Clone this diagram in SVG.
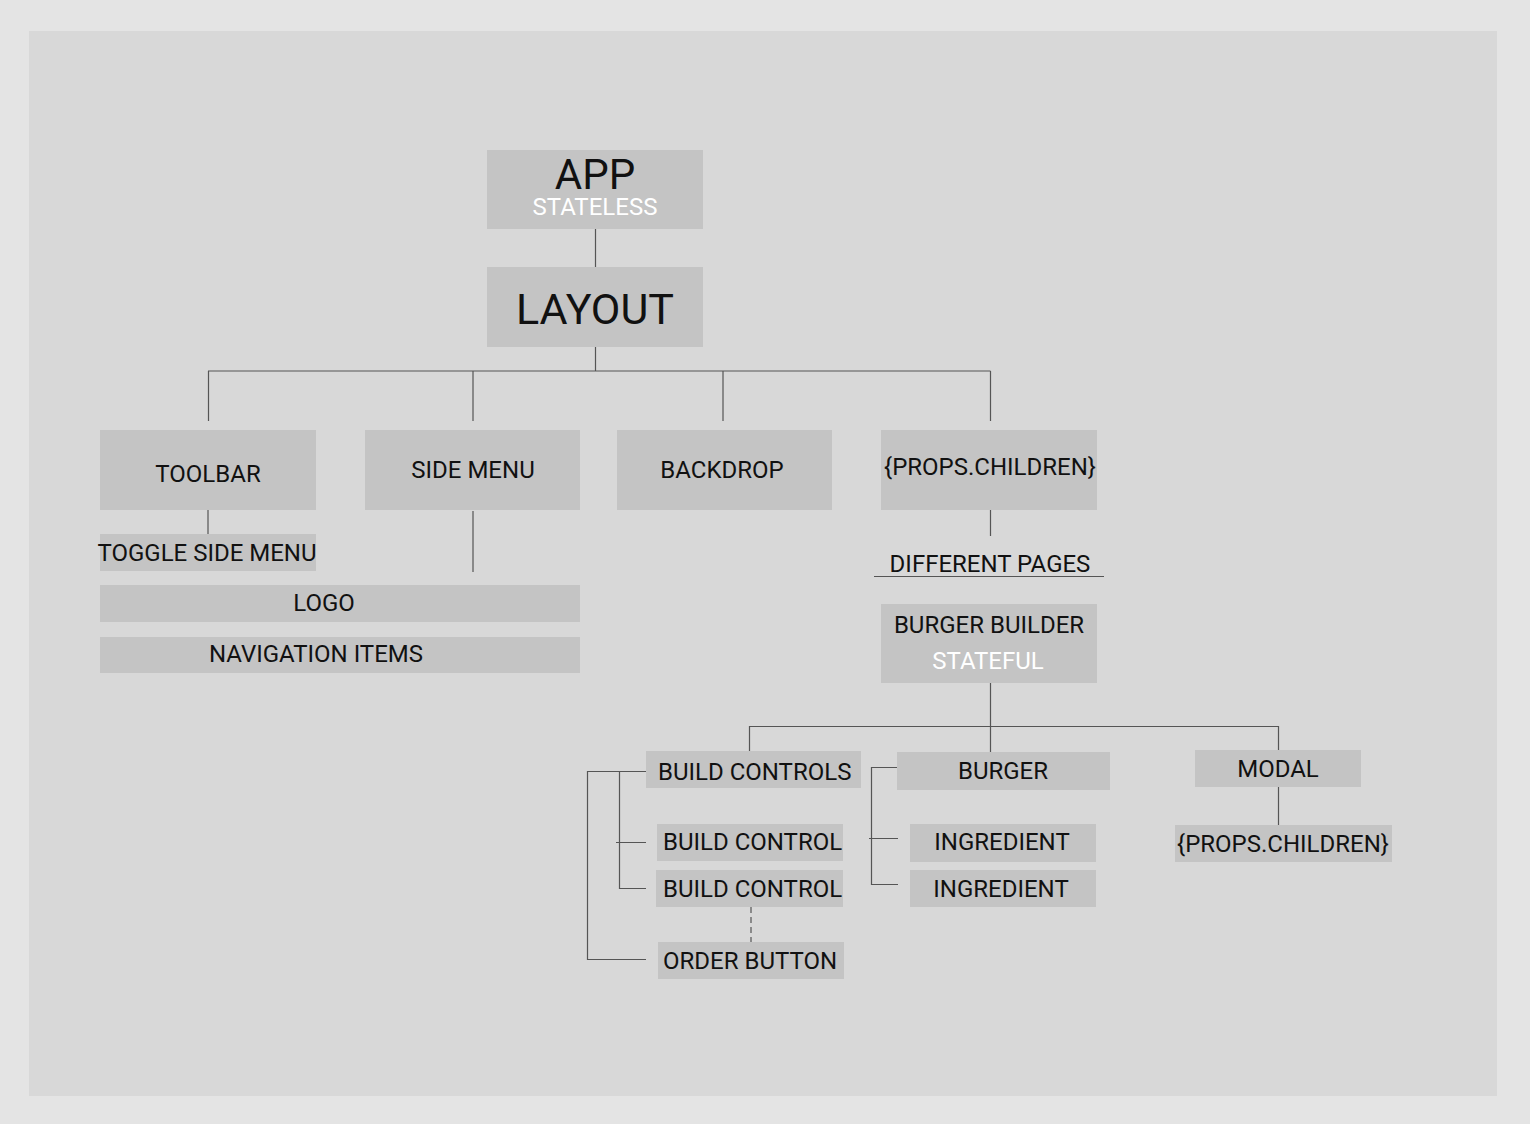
<svg xmlns="http://www.w3.org/2000/svg" width="1530" height="1124" viewBox="0 0 1530 1124">
<style>
.box{fill:#c4c4c4}
.t{font-family:Roboto,"Liberation Sans",sans-serif;font-size:24px;fill:#111}
.c{text-anchor:middle}
.w{fill:#ffffff}
.ln{stroke:#555;stroke-width:1.2;fill:none}
</style>
<rect x="0" y="0" width="1530" height="1124" fill="#e4e4e4"/>
<rect x="29" y="31" width="1468" height="1065" fill="#d8d8d8"/>
<g id="connectors">
<path class="ln" d="M595.5 229V267M595.5 347V371M208 371H990.5M208.5 371V421M473 371V421M723 371V421M990.5 371V421"/>
<path class="ln" d="M208 510V534M473 511V572"/>
<path class="ln" d="M990.5 509V536M874 576.5H1104"/>
<path class="ln" d="M990.5 683V726.5M749 726.5H1278.5M749.5 726V751M990.5 726V752M1278.5 726V750"/>
<path class="ln" d="M646 771.5H587.5V959.5H646M619.5 771V888.5H646M616 842.5H646"/>
<path class="ln" d="M751 907V942" stroke-dasharray="6,4"/>
<path class="ln" d="M897 767.5H871.5V884.5H898M869 838.5H898"/>
<path class="ln" d="M1278.5 787V825"/>
</g>
<g id="app"><rect class="box" x="487" y="150" width="216" height="79"/><text class="t c"><tspan x="595" y="189" style="font-size:42px">APP</tspan><tspan class="w" x="595" y="215" style="font-size:24px">STATELESS</tspan></text></g>
<g id="layout"><rect class="box" x="487" y="267" width="216" height="80"/><text class="t c" x="595" y="324" style="font-size:43px">LAYOUT</text></g>
<g id="toolbar"><rect class="box" x="100" y="430" width="216" height="80"/><text class="t c" x="208" y="482">TOOLBAR</text></g>
<g id="sidemenu"><rect class="box" x="365" y="430" width="215" height="80"/><text class="t c" x="473" y="478">SIDE MENU</text></g>
<g id="backdrop"><rect class="box" x="617" y="430" width="215" height="80"/><text class="t c" x="722" y="478">BACKDROP</text></g>
<g id="propschildren"><rect class="box" x="881" y="430" width="216" height="80"/><text class="t c" x="990" y="475">{PROPS.CHILDREN}</text></g>
<g id="togglesidemenu"><rect class="box" x="100" y="534" width="216" height="37"/><text class="t c" x="207" y="561">TOGGLE SIDE MENU</text></g>
<g id="logo"><rect class="box" x="100" y="585" width="480" height="37"/><text class="t c" x="324" y="611">LOGO</text></g>
<g id="navigationitems"><rect class="box" x="100" y="637" width="480" height="36"/><text class="t c" x="316" y="662">NAVIGATION ITEMS</text></g>
<g id="differentpages"><text class="t c" x="990" y="572">DIFFERENT PAGES</text></g>
<g id="burgerbuilder"><rect class="box" x="881" y="604" width="216" height="79"/><text class="t c" x="989" y="633">BURGER BUILDER</text><text class="t c w" x="988" y="669">STATEFUL</text></g>
<g id="buildcontrols"><rect class="box" x="646" y="751" width="215" height="37"/><text class="t" x="658" y="780">BUILD CONTROLS</text></g>
<g id="buildcontrol1"><rect class="box" x="657" y="824" width="186" height="37"/><text class="t" x="663" y="850">BUILD CONTROL</text></g>
<g id="buildcontrol2"><rect class="box" x="656" y="870" width="187" height="37"/><text class="t" x="663" y="897">BUILD CONTROL</text></g>
<g id="orderbutton"><rect class="box" x="658" y="942" width="186" height="37"/><text class="t" x="663" y="969">ORDER BUTTON</text></g>
<g id="burger"><rect class="box" x="897" y="752" width="213" height="38"/><text class="t c" x="1003" y="779">BURGER</text></g>
<g id="ingredient1"><rect class="box" x="910" y="824" width="186" height="38"/><text class="t c" x="1002" y="850">INGREDIENT</text></g>
<g id="ingredient2"><rect class="box" x="910" y="870" width="186" height="37"/><text class="t c" x="1001" y="897">INGREDIENT</text></g>
<g id="modal"><rect class="box" x="1195" y="750" width="166" height="37"/><text class="t c" x="1278" y="777">MODAL</text></g>
<g id="modalchildren"><rect class="box" x="1175" y="825" width="217" height="37"/><text class="t c" x="1283" y="852">{PROPS.CHILDREN}</text></g>
</svg>
